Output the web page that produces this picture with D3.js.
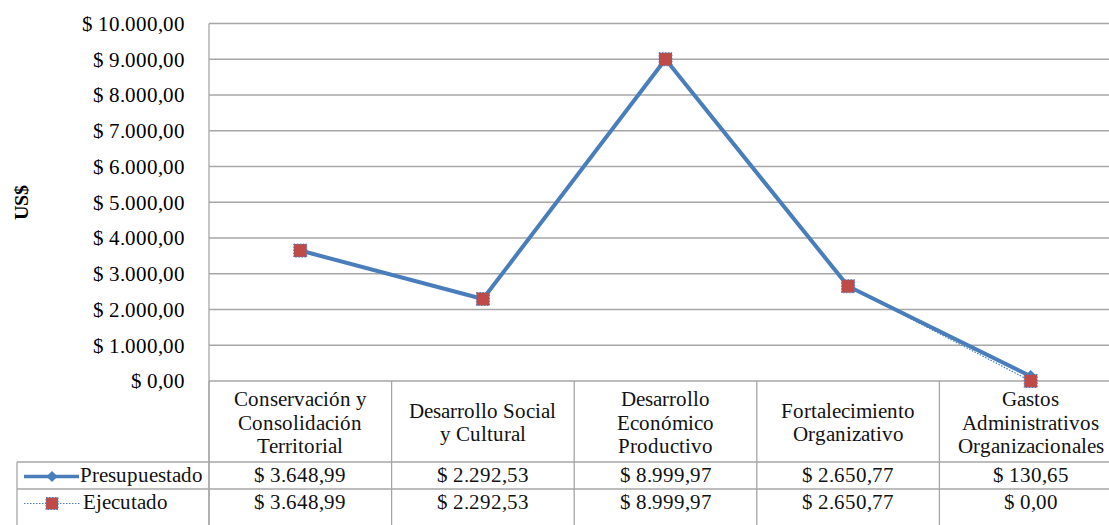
<!DOCTYPE html>
<html>
<head>
<meta charset="utf-8">
<script src="https://cdn.jsdelivr.net/npm/d3@7"></script>
<style>
  @font-face {
    font-family: "ChartSerif";
    src: local("Liberation Serif"), local("LiberationSerif"), local("LiberationSerif-Regular");
    font-weight: normal;
  }
  @font-face {
    font-family: "ChartSerif";
    src: local("Liberation Serif Bold"), local("LiberationSerif-Bold");
    font-weight: bold;
  }
</style>
</head>
<body style="margin:0">
<svg id="chart" width="1109" height="525" font-family="ChartSerif, Liberation Serif, serif"></svg>
<script>
// Budget lines (US$)
const categories = [
  ["Conservación y", "Consolidación", "Territorial"],
  ["Desarrollo Social", "y Cultural"],
  ["Desarrollo", "Económico", "Productivo"],
  ["Fortalecimiento", "Organizativo"],
  ["Gastos", "Administrativos", "Organizacionales"]
];
const presupuestado = [3648.99, 2292.53, 8999.97, 2650.77, 130.65];
const ejecutado = [3648.99, 2292.53, 8999.97, 2650.77, 0.00];
const seriesNames = ["Presupuestado", "Ejecutado"];
const yTicks = [0, 1000, 2000, 3000, 4000, 5000, 6000, 7000, 8000, 9000, 10000];

(function () {
  const blue = "#4a7ebb";
  const red = "#be4b48";
  const gridColor = "#a6a6a6";
  const font = size => `font-family: ChartSerif, 'Liberation Serif', serif; font-size: ${size}px`;

  // Spanish-style currency: thousands with "." and decimals with ","
  const locale = d3.formatLocale({ decimal: ",", thousands: ".", grouping: [3], currency: ["$ ", ""] });
  const money = locale.format("$,.2f");

  const svg = d3.select("#chart");

  const plotLeft = 209, plotTop = 23.5, axisBottom = 381;
  const bandW = 182.6;
  const plotRight = plotLeft + bandW * categories.length;
  const row1 = 462, row2 = 489, row3 = 516;

  const x = d3.scaleBand().domain(d3.range(categories.length)).range([plotLeft, plotRight]).padding(0);
  const y = d3.scaleLinear().domain([0, 10000]).range([axisBottom, plotTop]);

  // horizontal gridlines
  svg.append("g").selectAll("line").data(yTicks).join("line")
    .attr("x1", plotLeft).attr("x2", plotRight)
    .attr("y1", d => y(d)).attr("y2", d => y(d))
    .attr("stroke", gridColor).attr("stroke-width", 1.3);

  // y axis: tick positions from the axis generator, labels set in serif
  const yAxis = d3.axisLeft(y).tickValues(yTicks).tickSize(0).tickPadding(0).tickFormat(money);
  const yg = svg.append("g").attr("transform", `translate(${plotLeft - 24},0)`).call(yAxis);
  yg.attr("font-family", null).attr("font-size", null);
  yg.select(".domain").remove();
  yg.selectAll("text")
    .attr("style", font(21))
    .attr("fill", "#000")
    .attr("dy", "0.33em");

  svg.append("line")
    .attr("x1", plotLeft).attr("x2", plotLeft).attr("y1", plotTop).attr("y2", 525)
    .attr("stroke", gridColor).attr("stroke-width", 1.3);

  // axis title
  svg.append("text")
    .attr("transform", "translate(28,202) rotate(-90)")
    .attr("text-anchor", "middle")
    .attr("style", font(20) + "; font-weight: bold")
    .text("US$");

  // data table: category headers and value rows
  const table = svg.append("g");
  table.selectAll("line.sep").data(d3.range(categories.length + 1)).join("line")
    .attr("class", "sep")
    .attr("x1", i => plotLeft + i * bandW).attr("x2", i => plotLeft + i * bandW)
    .attr("y1", axisBottom).attr("y2", 525)
    .attr("stroke", gridColor).attr("stroke-width", 1.3);
  [row1, row2].forEach(r => {
    table.append("line").attr("x1", 17).attr("x2", plotRight).attr("y1", r).attr("y2", r)
      .attr("stroke", gridColor).attr("stroke-width", 1.3);
  });
  table.append("line").attr("x1", 17).attr("x2", 17).attr("y1", row1).attr("y2", 525)
    .attr("stroke", gridColor).attr("stroke-width", 1.3);

  const lh = 23.5;
  categories.forEach((lines, i) => {
    const cx = x(i) + x.bandwidth() / 2;
    const mid = (axisBottom + row1) / 2 + 8;
    const t = table.append("text").attr("text-anchor", "middle")
      .attr("style", font(20.5)).attr("fill", "#111");
    lines.forEach((s, k) => {
      t.append("tspan").attr("x", cx)
        .attr("y", mid + (k - (lines.length - 1) / 2) * lh)
        .text(s);
    });
  });

  const rows = [presupuestado, ejecutado];
  rows.forEach((vals, r) => {
    const base = (r === 0 ? row1 : row2) + 20;
    table.selectAll(null).data(vals).join("text")
      .attr("x", (d, i) => x(i) + x.bandwidth() / 2)
      .attr("y", base)
      .attr("text-anchor", "middle").attr("style", font(20.5)).attr("fill", "#111")
      .text(d => money(d));
    table.append("text").attr("x", r === 0 ? 80 : 83).attr("y", base)
      .attr("style", font(21)).attr("fill", "#111").text(seriesNames[r]);
  });

  // legend keys
  const keyY1 = (row1 + row2) / 2 + 1, keyY2 = (row2 + row3) / 2 + 1;
  table.append("line").attr("x1", 24).attr("x2", 79).attr("y1", keyY1).attr("y2", keyY1)
    .attr("stroke", blue).attr("stroke-width", 3.5);
  table.append("path").attr("d", d3.symbol(d3.symbolDiamond2, 80)()).attr("transform", `translate(52,${keyY1})`)
    .attr("fill", blue);
  table.append("line").attr("x1", 24).attr("x2", 80).attr("y1", keyY2).attr("y2", keyY2)
    .attr("stroke", blue).attr("stroke-width", 1.2).attr("stroke-dasharray", "1.5,1.5");
  table.append("rect").attr("x", 46).attr("y", keyY2 - 6).attr("width", 12).attr("height", 12)
    .attr("fill", red).attr("stroke", blue).attr("stroke-width", 1).attr("stroke-dasharray", "1.5,1.5");

  // series lines
  const cx = i => x(i) + x.bandwidth() / 2;
  const line = d3.line().x((d, i) => cx(i)).y(d => y(d));

  svg.append("path").datum(presupuestado).attr("d", line)
    .attr("fill", "none").attr("stroke", blue).attr("stroke-width", 4).attr("stroke-linejoin", "round");
  svg.append("g").selectAll("path").data(presupuestado).join("path")
    .attr("d", d3.symbol(d3.symbolDiamond2, 100)())
    .attr("transform", (d, i) => `translate(${cx(i)},${y(d)})`)
    .attr("fill", blue);

  svg.append("path").datum(ejecutado).attr("d", line)
    .attr("fill", "none").attr("stroke", blue).attr("stroke-width", 1.2).attr("stroke-dasharray", "1.5,1.5");
  svg.append("g").selectAll("rect").data(ejecutado).join("rect")
    .attr("x", (d, i) => cx(i) - 6.5).attr("y", d => y(d) - 6.5)
    .attr("width", 13).attr("height", 13)
    .attr("fill", red).attr("stroke", blue).attr("stroke-width", 1).attr("stroke-dasharray", "1.5,1.5");
})();
</script>
</body>
</html>
